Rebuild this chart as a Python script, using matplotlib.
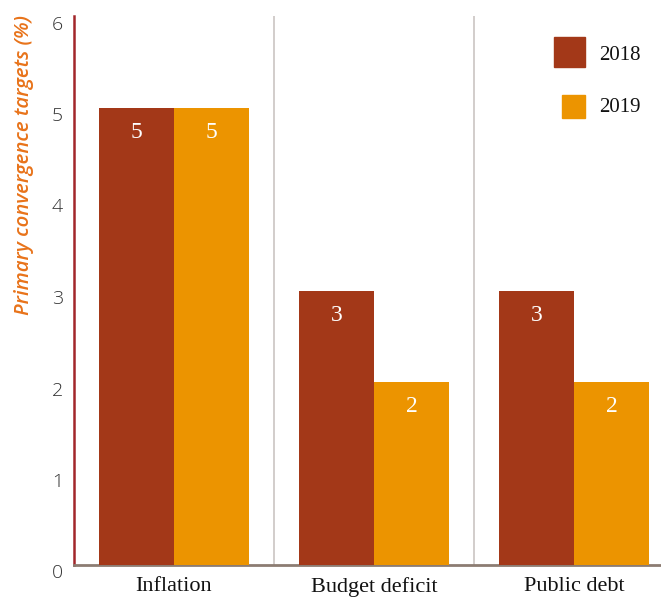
import matplotlib
matplotlib.use("Agg")
import matplotlib.pyplot as plt
import matplotlib.transforms as mtransforms
import numpy as np
from matplotlib.patches import Rectangle

categories = ["Inflation", "Budget deficit", "Public debt"]
years = ["2018", "2019"]
values_2018 = [5, 3, 3]
values_2019 = [5, 2, 2]
y_ticks = [0, 1, 2, 3, 4, 5, 6]

c2018 = "#a33818"
c2019 = "#ec9400"

fig = plt.figure(figsize=(6.61, 5.98), dpi=100)
ax = fig.add_axes([74 / 661, 33 / 598, 600 / 661, 549 / 598])

x = np.arange(len(categories))
w = 0.375
b1 = ax.bar(x - w / 2, values_2018, w, color=c2018, zorder=3)
b2 = ax.bar(x + w / 2, values_2019, w, color=c2019, zorder=3)

for bars, vals in ((b1, values_2018), (b2, values_2019)):
    for rect, v in zip(bars, vals):
        ax.annotate(str(v), (rect.get_x() + rect.get_width() / 2, v),
                    xytext=(0, -18), textcoords="offset points",
                    ha="center", va="center", color="white",
                    family="Liberation Serif", fontsize=17, zorder=4)

# group dividers
for d in x[:-1] + 0.5:
    ax.axvline(d, color="#cbc5c2", lw=1.2, zorder=1)

ax.set_xlim(-0.5, len(categories) - 0.5)
ax.set_ylim(0, 6)
ax.set_yticks(y_ticks)
ax.set_yticklabels([str(t) for t in y_ticks], family="Open Sans",
                   fontweight="light", fontsize=14, color="#333333")
ax.tick_params(axis="y", length=0, pad=8)
# tick numbers sit slightly below their gridline value
shift = mtransforms.ScaledTranslation(0, -0.065, fig.dpi_scale_trans)
for lab in ax.get_yticklabels():
    lab.set_transform(lab.get_transform() + shift)
ax.set_xticks(x)
ax.set_xticklabels(categories, family="Liberation Serif", fontsize=16,
                   color="#111111")
ax.tick_params(axis="x", length=0, pad=8.5)

for s in ("top", "right"):
    ax.spines[s].set_visible(False)
ax.spines["left"].set_color("#a2262a")
ax.spines["left"].set_linewidth(1.8)
ax.spines["bottom"].set_color("#8c7c72")
ax.spines["bottom"].set_linewidth(2)

ax.set_ylabel("Primary convergence targets (%)", family="Open Sans",
              style="italic", fontweight="semibold", fontsize=14.7,
              color="#e8731a")
ax.yaxis.set_label_coords(-0.066, 0.729)

# legend
W, H = 661, 598
fig.patches.append(Rectangle((554 / W, 1 - 67 / H), 31 / W, 30 / H,
                             transform=fig.transFigure, color=c2018))
fig.patches.append(Rectangle((562 / W, 1 - 118 / H), 23 / W, 23 / H,
                             transform=fig.transFigure, color=c2019))
fig.text(599 / W, 1 - 55 / H, years[0], family="Liberation Serif",
         fontsize=15, va="center", color="#111111")
fig.text(599 / W, 1 - 108 / H, years[1], family="Liberation Serif",
         fontsize=15, va="center", color="#111111")

fig.savefig("out.png", dpi=100)
